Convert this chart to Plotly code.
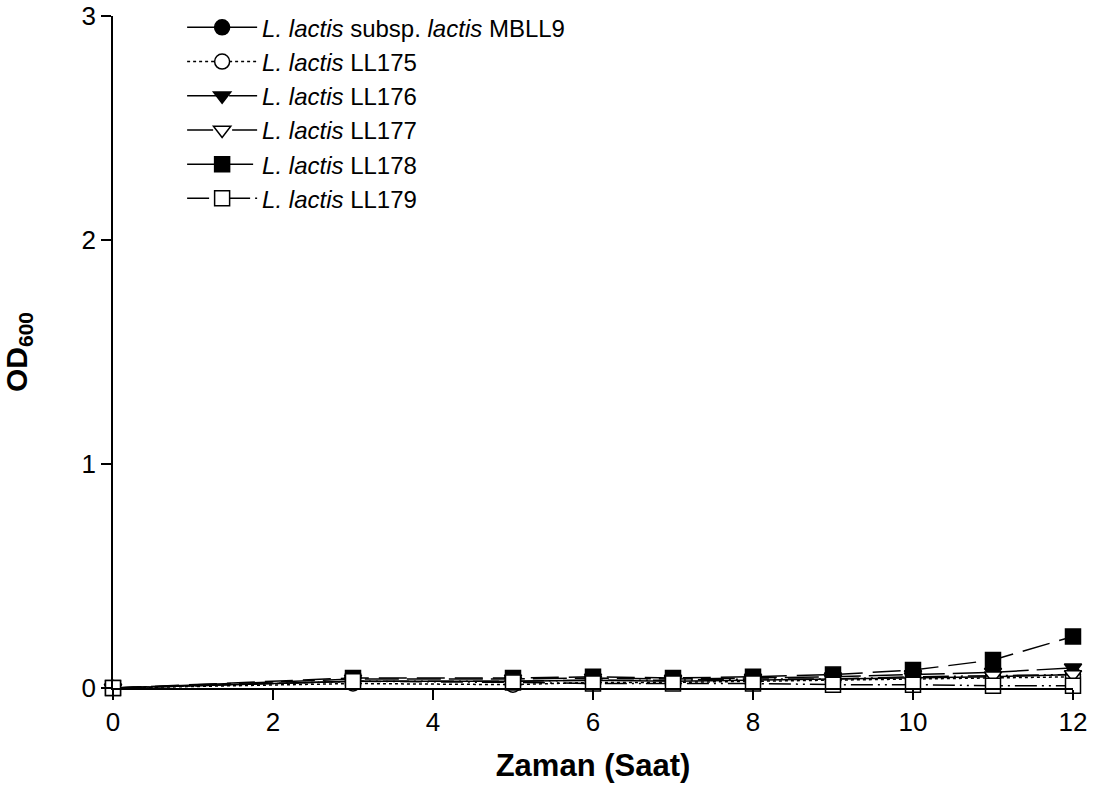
import plotly.graph_objects as go

time_h = [0, 3, 5, 6, 7, 8, 9, 10, 11, 12]

series_names = [
    "<i>L. lactis</i> subsp. <i>lactis</i> MBLL9",
    "<i>L. lactis</i> LL175",
    "<i>L. lactis</i> LL176",
    "<i>L. lactis</i> LL177",
    "<i>L. lactis</i> LL178",
    "<i>L. lactis</i> LL179",
]

od_mbll9 = [0.0, 0.030, 0.030, 0.035, 0.030, 0.035, 0.040, 0.045, 0.050, 0.060]
od_ll175 = [0.0, 0.020, 0.015, 0.025, 0.025, 0.030, 0.035, 0.040, 0.045, 0.050]
od_ll176 = [0.0, 0.040, 0.040, 0.045, 0.040, 0.045, 0.050, 0.060, 0.070, 0.090]
od_ll177 = [0.0, 0.030, 0.030, 0.035, 0.035, 0.040, 0.040, 0.050, 0.055, 0.060]
od_ll178 = [0.0, 0.045, 0.045, 0.050, 0.045, 0.050, 0.060, 0.080, 0.125, 0.230]
od_ll179 = [0.0, 0.030, 0.025, 0.020, 0.020, 0.020, 0.015, 0.015, 0.010, 0.010]

x_ticks = [0, 2, 4, 6, 8, 10, 12]
y_ticks = [0, 1, 2, 3]

values = [od_mbll9, od_ll175, od_ll176, od_ll177, od_ll178, od_ll179]
symbols = ["circle", "circle", "triangle-down", "triangle-down", "square", "square"]
fills = ["black", "white", "black", "white", "black", "white"]
dashes = ["solid", "dot", "34px,8px", "26px,5px,2px,5px,2px,5px",
          "28px,10px", "22px,5px,2px,5px,2px,5px"]

fig = go.Figure()
for name, vals, sym, fill, dash in zip(series_names, values, symbols, fills, dashes):
    fig.add_trace(go.Scatter(
        x=time_h, y=vals, name=name, mode="lines+markers",
        line=dict(color="black", width=1.5, dash=dash),
        marker=dict(symbol=sym, size=15, color=fill, line=dict(color="black", width=1.5)),
        cliponaxis=False,
    ))

font_family = "Liberation Sans, Arial, sans-serif"

fig.update_layout(
    width=1093, height=812,
    margin=dict(l=113, r=20, t=16, b=124, pad=0, autoexpand=False),
    paper_bgcolor="white", plot_bgcolor="white",
    font=dict(family=font_family, size=26, color="black"),
    showlegend=True,
    legend=dict(
        x=0.072, y=1.016, xanchor="left", yanchor="top",
        bgcolor="rgba(0,0,0,0)", borderwidth=0,
        font=dict(family=font_family, size=24, color="black"),
        itemwidth=70, tracegroupgap=0,
    ),
    xaxis=dict(
        range=[0, 12], tickvals=x_ticks, ticktext=[str(v) for v in x_ticks],
        showline=True, linecolor="black", linewidth=1.5,
        ticks="outside", ticklen=10, tickwidth=1.5, tickcolor="black",
        showgrid=False, zeroline=False, automargin=False,
        ticklabeloverflow="allow",
        tickfont=dict(size=26),
        title=dict(text="<b>Zaman (Saat)</b>", font=dict(size=31), standoff=18),
    ),
    yaxis=dict(
        range=[0, 3], tickvals=y_ticks, ticktext=[str(v) for v in y_ticks],
        showline=True, linecolor="black", linewidth=1.5,
        ticks="outside", ticklen=10, tickwidth=1.5, tickcolor="black",
        showgrid=False, zeroline=False, automargin=False,
        ticklabeloverflow="allow",
        tickfont=dict(size=26),
        title=dict(text="<b>OD<sub>600</sub></b>", font=dict(size=30), standoff=66),
    ),
)

fig.write_html(
    "out.html",
    config={"displayModeBar": False},
    post_script="document.body.style.margin='0';",
)
